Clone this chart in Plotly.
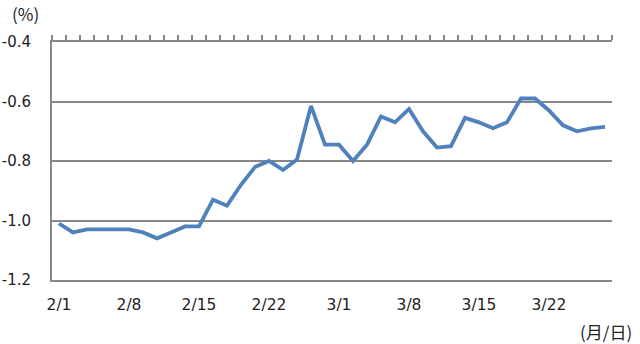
import datetime as dt
import plotly.graph_objects as go

# business days 2021-02-01 .. 2021-03-26
start = dt.date(2021, 2, 1)
dates = []
d = start
while d <= dt.date(2021, 3, 26):
    if d.weekday() < 5:
        dates.append(f"{d.month}/{d.day}")
    d += dt.timedelta(days=1)

values = [-1.01, -1.04, -1.03, -1.03, -1.03, -1.03, -1.04, -1.06, -1.04, -1.02,
          -1.02, -0.93, -0.95, -0.88, -0.82, -0.80, -0.83, -0.795, -0.615, -0.745,
          -0.745, -0.80, -0.745, -0.65, -0.67, -0.625, -0.70, -0.755, -0.75, -0.655,
          -0.67, -0.69, -0.67, -0.59, -0.59, -0.63, -0.68, -0.70, -0.69, -0.685]

label_dates = ["2/1", "2/8", "2/15", "2/22", "3/1", "3/8", "3/15", "3/22"]
y_ticks = [-1.2, -1.0, -0.8, -0.6, -0.4]
y_text = ["-1.2", "-1.0", "-0.8", "-0.6", "-0.4"]

GRID = "#878787"
LINE = "#4F81BD"
FONT = "DejaVu Sans"
L, R, T, B = 52, 28, 42, 64

fig = go.Figure()
fig.add_trace(go.Scatter(x=dates, y=values, mode="lines",
                         line=dict(color=LINE, width=3.8), hoverinfo="skip"))
# helper trace for top tick axis
fig.add_trace(go.Scatter(x=list(range(len(dates))), y=values, xaxis="x2",
                         mode="lines", line=dict(width=0), opacity=0,
                         hoverinfo="skip", showlegend=False))

pw, ph = 640 - L - R, 344 - T - B

def px(x, y):
    return (x - L) / pw, (344 - y - B) / ph

ax, ay = px(10, 14)
bx, by = px(634, 331)

fig.update_layout(
    width=640, height=344,
    margin=dict(l=L, r=R, t=T, b=B, autoexpand=False),
    paper_bgcolor="white", plot_bgcolor="white",
    showlegend=False,
    font=dict(family=FONT, size=15, color="#222222"),
    xaxis=dict(type="category", categoryorder="array", categoryarray=dates,
               range=[-0.5, len(dates) - 0.5], automargin=False,
               tickmode="array", tickvals=label_dates, ticktext=label_dates,
               ticks="", showgrid=False, zeroline=False,
               showline=True, linecolor=GRID, linewidth=2,
               tickfont=dict(size=15.5), ticklabelstandoff=9),
    xaxis2=dict(overlaying="x", side="top", anchor="y", type="linear",
                range=[-0.5, len(dates) - 0.5], automargin=False,
                tickmode="linear", tick0=-0.5, dtick=1,
                ticks="outside", ticklen=5, tickwidth=2, tickcolor=GRID,
                showticklabels=False, showgrid=False, zeroline=False,
                showline=True, linecolor=GRID, linewidth=2),
    yaxis=dict(range=[-1.2, -0.4], tickmode="array", tickvals=y_ticks, ticktext=y_text,
               automargin=False,
               showgrid=True, gridcolor=GRID, gridwidth=2, zeroline=False,
               showline=True, linecolor=GRID, linewidth=2,
               ticks="", ticklabelstandoff=16, tickfont=dict(size=15)),
    annotations=[
        dict(text="(%)", x=ax, y=ay, xref="paper", yref="paper", showarrow=False,
             font=dict(family="Noto Sans CJK JP", size=17, color="#222222"),
             xanchor="left", yanchor="middle"),
        dict(text="(月/日)", x=bx, y=by, xref="paper", yref="paper", showarrow=False,
             font=dict(family="Noto Sans CJK JP", size=17, color="#222222"),
             xanchor="right", yanchor="middle"),
    ],
)

fig.write_html("out.html")
